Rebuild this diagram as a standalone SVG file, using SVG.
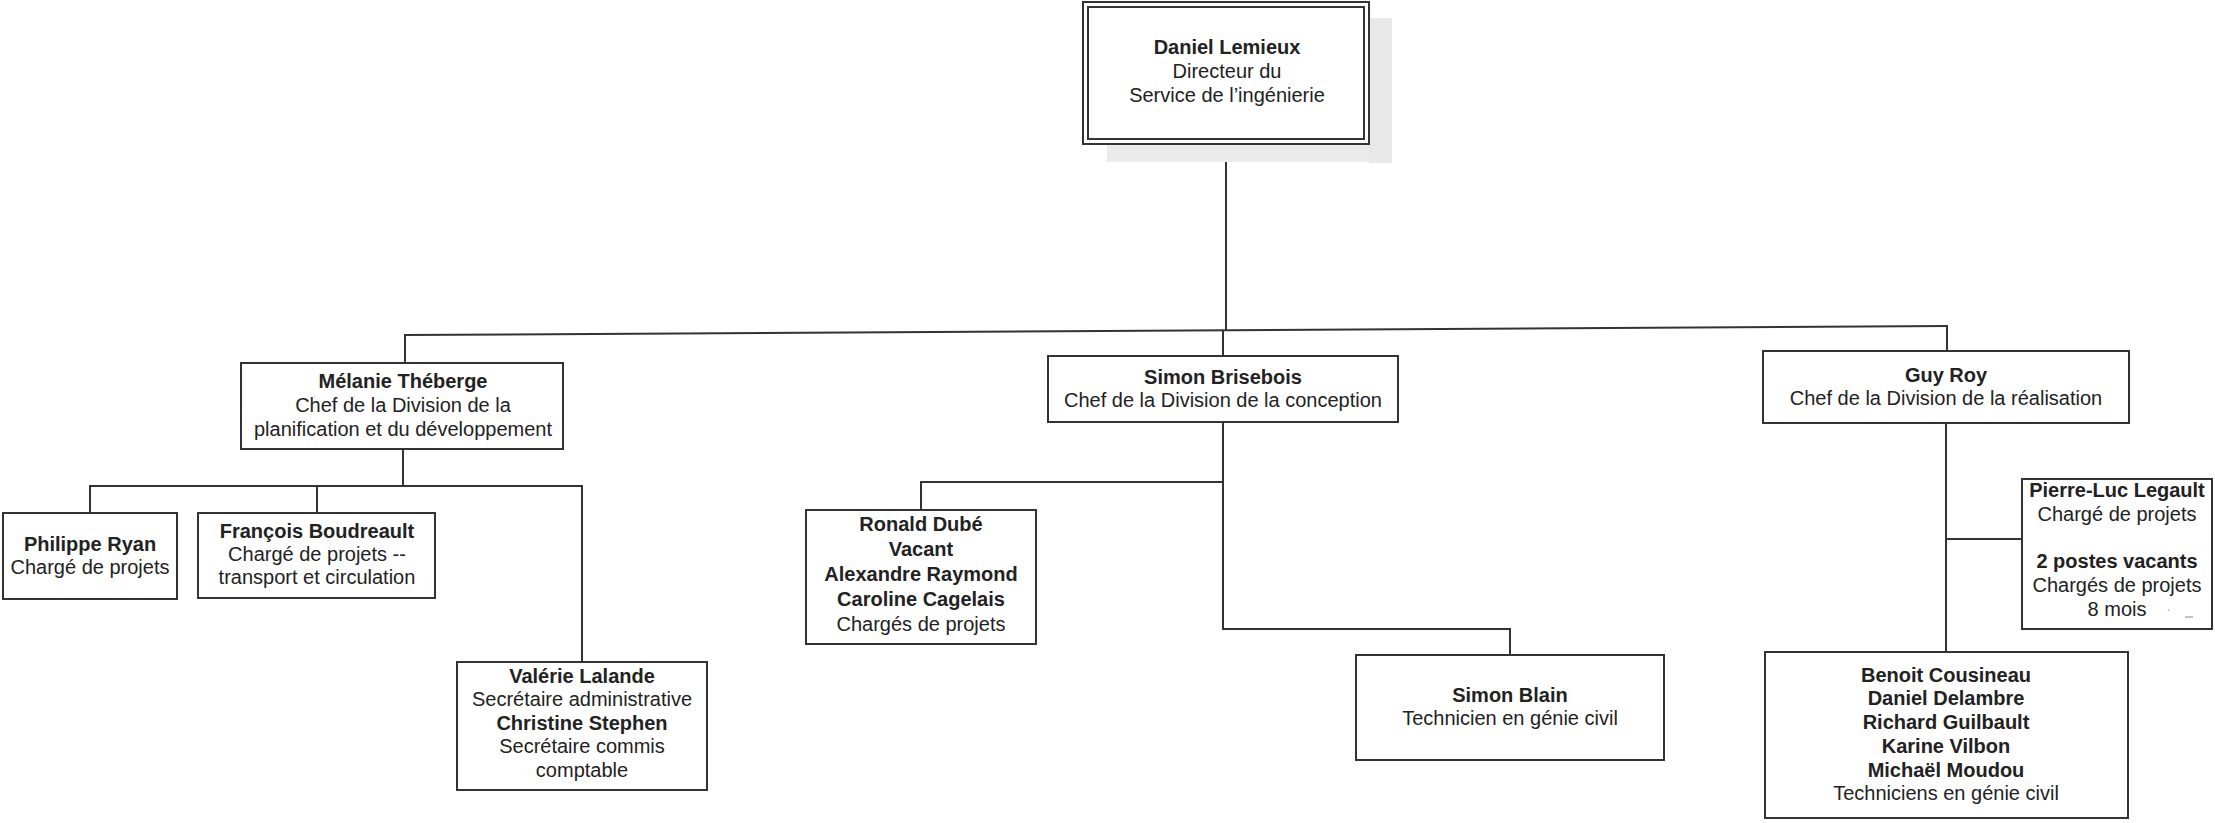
<svg xmlns="http://www.w3.org/2000/svg" width="2215" height="823" viewBox="0 0 2215 823">
<style>
.box{fill:#fff;stroke:#333;stroke-width:2}
.ln{fill:none;stroke:#333;stroke-width:2}
text{font-family:"Liberation Sans",Arial,sans-serif;font-size:20px;fill:#222;text-anchor:middle}
.b{font-weight:bold}
</style>
<rect x="0" y="0" width="2215" height="823" fill="#fff"/>
<g id="connectors">
<line class="ln" x1="1226" y1="144" x2="1226" y2="331"/>
<line class="ln" x1="404" y1="335" x2="1948" y2="326"/>
<line class="ln" x1="405" y1="335" x2="405" y2="363"/>
<line class="ln" x1="1223" y1="331" x2="1223" y2="357"/>
<line class="ln" x1="1947" y1="326" x2="1947" y2="351"/>
<line class="ln" x1="403" y1="449" x2="403" y2="486"/>
<line class="ln" x1="89" y1="486" x2="583" y2="486"/>
<line class="ln" x1="90" y1="486" x2="90" y2="513"/>
<line class="ln" x1="317" y1="486" x2="317" y2="513"/>
<line class="ln" x1="582" y1="486" x2="582" y2="662"/>
<line class="ln" x1="1223" y1="422" x2="1223" y2="630"/>
<polyline class="ln" points="1223,482 921,482 921,511"/>
<polyline class="ln" points="1223,629 1510,629 1510,655"/>
<line class="ln" x1="1946" y1="423" x2="1946" y2="652"/>
<line class="ln" x1="1946" y1="539" x2="2022" y2="539"/>
</g>
<g id="n-lemieux">
<rect x="1369" y="18" width="23" height="145" fill="#e8e8e8"/>
<rect x="1107" y="144" width="262" height="18" fill="#ebebeb"/>
<rect class="box" x="1083" y="2" width="286" height="142"/>
<rect class="box" x="1088" y="7" width="276" height="132"/>
<text x="1227" y="54" class="b">Daniel Lemieux</text>
<text x="1227" y="78">Directeur du</text>
<text x="1227" y="102">Service de l’ingénierie</text>
</g>
<g id="n-theberge">
<rect class="box" x="241" y="363" width="322" height="86"/>
<text x="403" y="388" class="b">Mélanie Théberge</text>
<text x="403" y="412">Chef de la Division de la</text>
<text x="403" y="436">planification et du développement</text>
</g>
<g id="n-brisebois">
<rect class="box" x="1048" y="356" width="350" height="66"/>
<text x="1223" y="384" class="b">Simon Brisebois</text>
<text x="1223" y="407">Chef de la Division de la conception</text>
</g>
<g id="n-roy">
<rect class="box" x="1763" y="351" width="366" height="72"/>
<text x="1946" y="382" class="b">Guy Roy</text>
<text x="1946" y="405">Chef de la Division de la réalisation</text>
</g>
<g id="n-ryan">
<rect class="box" x="3" y="513" width="174" height="86"/>
<text x="90" y="551" class="b">Philippe Ryan</text>
<text x="90" y="574">Chargé de projets</text>
</g>
<g id="n-boudreault">
<rect class="box" x="198" y="513" width="237" height="85"/>
<text x="317" y="538" class="b">François Boudreault</text>
<text x="317" y="561">Chargé de projets --</text>
<text x="317" y="584">transport et circulation</text>
</g>
<g id="n-lalande">
<rect class="box" x="457" y="662" width="250" height="128"/>
<text x="582" y="683" class="b">Valérie Lalande</text>
<text x="582" y="706">Secrétaire administrative</text>
<text x="582" y="730" class="b">Christine Stephen</text>
<text x="582" y="753">Secrétaire commis</text>
<text x="582" y="777">comptable</text>
</g>
<g id="n-dube">
<rect class="box" x="806" y="510" width="230" height="134"/>
<text x="921" y="531" class="b">Ronald Dubé</text>
<text x="921" y="556" class="b">Vacant</text>
<text x="921" y="581" class="b">Alexandre Raymond</text>
<text x="921" y="606" class="b">Caroline Cagelais</text>
<text x="921" y="631">Chargés de projets</text>
</g>
<g id="n-blain">
<rect class="box" x="1356" y="655" width="308" height="105"/>
<text x="1510" y="702" class="b">Simon Blain</text>
<text x="1510" y="725">Technicien en génie civil</text>
</g>
<g id="n-legault">
<rect class="box" x="2022" y="479" width="190" height="150"/>
<text x="2117" y="497" class="b">Pierre-Luc Legault</text>
<text x="2117" y="521">Chargé de projets</text>
<text x="2117" y="568" class="b">2 postes vacants</text>
<text x="2117" y="592">Chargés de projets</text>
<text x="2117" y="616">8 mois</text>
<line x1="2185" y1="617" x2="2193" y2="617" stroke="#888" stroke-width="1"/>
<line x1="2168" y1="609" x2="2169" y2="611" stroke="#aaa" stroke-width="1"/>
</g>
<g id="n-cousineau">
<rect class="box" x="1765" y="652" width="363" height="166"/>
<text x="1946" y="682" class="b">Benoit Cousineau</text>
<text x="1946" y="705" class="b">Daniel Delambre</text>
<text x="1946" y="729" class="b">Richard Guilbault</text>
<text x="1946" y="753" class="b">Karine Vilbon</text>
<text x="1946" y="777" class="b">Michaël Moudou</text>
<text x="1946" y="800">Techniciens en génie civil</text>
</g>
</svg>
